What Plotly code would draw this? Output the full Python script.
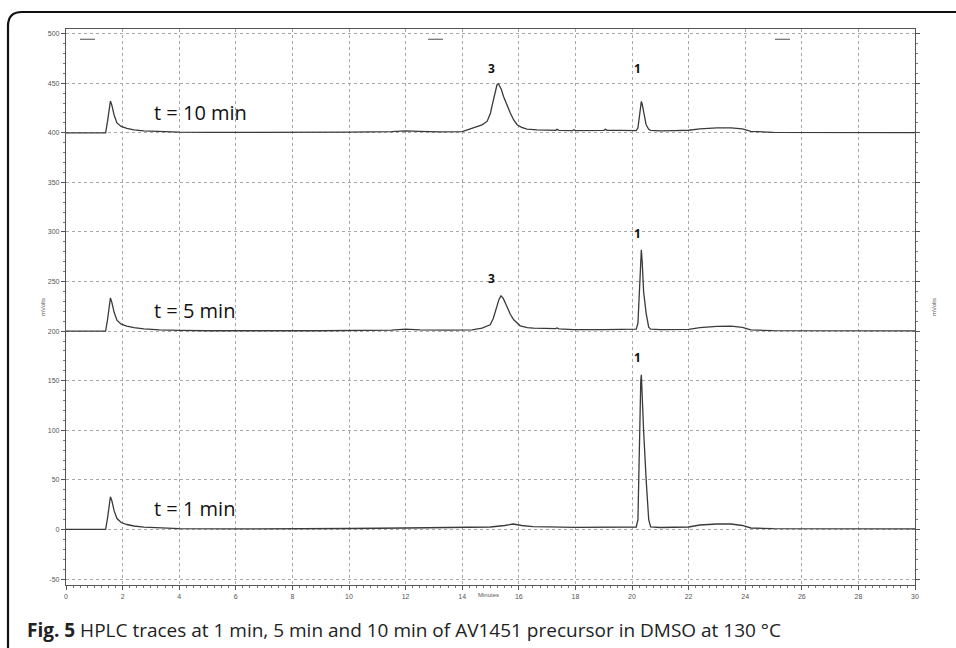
import plotly.graph_objects as go

# ---------------- data ----------------
t10_time = [0, 1.40, 1.47, 1.53, 1.57, 1.62, 1.70, 1.80, 1.95, 2.15, 2.40, 2.75, 3.3, 4.0, 5.0, 7.0,
            9.0, 10.0, 11.5, 12.0, 12.5, 13.2, 14.0, 14.4, 14.7, 14.88, 15.0, 15.05, 15.15, 15.23, 15.28,
            15.38, 15.46, 15.58, 15.70, 15.82, 15.94, 16.1, 16.29, 16.64, 17.3, 17.35, 17.42, 17.9, 17.95,
            18.0, 18.6, 19.0, 19.06, 19.12, 19.6, 20.15, 20.21, 20.26, 20.31, 20.33, 20.36, 20.41, 20.5,
            20.59, 20.66, 21.0, 21.4, 21.46, 21.5, 22.0, 22.4, 23.0, 23.5, 23.9, 24.2, 25.0, 27.0, 30.0]
t10_mv = [400, 400, 412, 428, 432, 428, 418, 410, 406.5, 404.5, 403, 402, 401.2, 400.7, 400.4, 400.3,
          400.5, 400.8, 401.2, 402, 401.5, 401, 401.2, 404.8, 408, 411.5, 420, 426.6, 440, 448.5, 449.5,
          444, 436.7, 428, 420, 413, 408.2, 405.5, 403.8, 402.9, 402.5, 403.5, 402.5, 402.3, 403.2,
          402.3, 402.4, 402.5, 403.5, 402.5, 402.4, 402.3, 405, 418, 429, 431.7, 429, 420, 408,
          403.5, 402.5, 402, 402.3, 403, 402.3, 402.6, 404, 405, 405, 404, 401.5, 400.5, 400.3, 400.2]

t5_time = [0, 1.40, 1.47, 1.53, 1.57, 1.62, 1.70, 1.80, 1.95, 2.15, 2.40, 2.75, 3.3, 4.0, 5.0, 9.0,
           11.5, 12.0, 12.5, 13.5, 14.35, 14.7, 14.99, 15.1, 15.23, 15.30, 15.37, 15.45, 15.58, 15.70,
           15.82, 16.05, 16.3, 16.52, 17.3, 17.35, 17.42, 17.94, 19.0, 20.06, 20.15, 20.21, 20.26, 20.31,
           20.33, 20.36, 20.41, 20.5, 20.59, 20.66, 21.0, 22.0, 22.4, 23.0, 23.5, 23.9, 24.2, 25.0, 30.0]
t5_mv = [200, 200, 212, 229, 233.5, 229, 219, 211, 207, 205, 203.5, 202.2, 201.2, 200.7, 200.4, 200.4,
         201, 202, 201.3, 201, 201.3, 203, 206.4, 213, 224.8, 232, 235.6, 233, 224.8, 217,
         211.4, 205.4, 203.5, 203, 202.5, 203.2, 202.3, 201.5, 201.5, 201.5, 202, 208, 240, 272,
         282, 270, 240, 218, 204, 202, 201.5, 201.8, 203.5, 204.8, 205, 203.8, 201.2, 200.5, 200.3]

t1_time = [0, 1.40, 1.47, 1.53, 1.57, 1.62, 1.70, 1.80, 1.95, 2.15, 2.40, 2.75, 3.3, 4.0, 6.0, 9.0,
           10.0, 12.0, 14.0, 15.0, 15.5, 15.8, 16.1, 16.5, 18.0, 20.0, 20.15, 20.21, 20.26, 20.31,
           20.33, 20.36, 20.41, 20.5, 20.59, 20.66, 21.0, 22.0, 22.4, 23.0, 23.5, 23.9, 24.2, 25.0, 30.0]
t1_mv = [0, 0, 12, 29, 33, 29, 19, 11, 7, 5, 3.5, 2.3, 1.5, 0.9, 0.5, 0.6,
         1.0, 1.5, 2.0, 2.5, 4.0, 5.5, 4.0, 2.8, 2.2, 2.0, 2.5, 10, 100, 150,
         156, 140, 100, 50, 10, 2.5, 2.0, 2.5, 4.5, 5.5, 5.5, 4.0, 1.5, 0.8, 0.5]

trace_labels = ["t = 10 min", "t = 5 min", "t = 1 min"]
trace_label_y = [421, 220.5, 20.7]
trace_label_x = 3.05

peak_names = ["3", "1", "3", "1", "1"]
peak_x = [15.05, 20.18, 15.05, 20.18, 20.18]
peak_y = [464.7, 464.7, 252.8, 298, 173]

x_ticks = list(range(0, 31, 2))
y_ticks = list(range(-50, 501, 50))

# ---------------- figure ----------------
fig = go.Figure()
line_style = dict(color="#3a3a3a", width=1.3)
for tx, ty in [(t10_time, t10_mv), (t5_time, t5_mv), (t1_time, t1_mv)]:
    fig.add_trace(go.Scatter(x=tx, y=ty, mode="lines", line=line_style,
                             showlegend=False, hoverinfo="skip"))

annotations = []
for txt, yv in zip(trace_labels, trace_label_y):
    annotations.append(dict(x=trace_label_x, y=yv, xref="x", yref="y", text=txt,
                            showarrow=False, xanchor="left", yanchor="middle",
                            font=dict(family="Open Sans", size=20, color="#111")))
for txt, xv, yv in zip(peak_names, peak_x, peak_y):
    annotations.append(dict(x=xv, y=yv, xref="x", yref="y", text="<b>%s</b>" % txt,
                            showarrow=False, xanchor="center", yanchor="middle",
                            font=dict(family="Open Sans", size=12, color="#111")))

L, R, T, B = 66, 41, 29, 63
W, H = 956, 648
pw, ph = W - L - R, H - T - B


def px(xp):
    return (xp - L) / pw


def py(yp):
    return (H - B - yp) / ph


annotations += [
    dict(x=px(488), y=py(600), xref="paper", yref="paper", text="Minutes", showarrow=False,
         font=dict(family="Liberation Sans", size=6, color="#555")),
    dict(x=px(38), y=0.5, xref="paper", yref="paper", text="mVolts", showarrow=False,
         textangle=-90, font=dict(family="Liberation Sans", size=6, color="#555")),
    dict(x=px(939), y=0.5, xref="paper", yref="paper", text="mVolts", showarrow=False,
         textangle=-90, font=dict(family="Liberation Sans", size=6, color="#555")),
    dict(x=px(25), y=py(630), xref="paper", yref="paper", xanchor="left", yanchor="middle",
         text="<b>Fig. 5</b> HPLC traces at 1 min, 5 min and 10 min of AV1451 precursor in DMSO at 130 °C",
         showarrow=False, font=dict(family="Open Sans", size=19, color="#222")),
]

# outer rounded frame
x0, y0 = px(8), py(12)
x1, y1 = px(990), py(680)
rx, ry = 14 / pw, 14 / ph
frame_path = (f"M {x0},{y0 - ry} Q {x0},{y0} {x0 + rx},{y0} L {x1},{y0} "
              f"M {x0},{y0 - ry} L {x0},{y1}")
shapes = [dict(type="path", path=frame_path, xref="paper", yref="paper",
               line=dict(color="#111", width=2.2))]
# small marker dashes along the top of the plot
for a, b in [(80, 95), (428, 443), (775, 790)]:
    shapes.append(dict(type="line", x0=px(a), x1=px(b), y0=py(39.3), y1=py(39.3),
                       xref="paper", yref="paper", line=dict(color="#777", width=1.3)))

fig.update_layout(
    width=W, height=H,
    margin=dict(l=L, r=R, t=T, b=B),
    paper_bgcolor="white", plot_bgcolor="white",
    annotations=annotations, shapes=shapes,
    showlegend=False,
)
fig.update_xaxes(range=[0, 30], tickvals=x_ticks, ticktext=[str(v) for v in x_ticks],
                 showgrid=True, gridcolor="#a8a8a8", griddash="dot", gridwidth=1,
                 showline=True, linecolor="#555", linewidth=1.3, mirror=True,
                 ticks="outside", ticklen=4, tickcolor="#555",
                 minor=dict(dtick=0.25, ticks="outside", ticklen=2, tickcolor="#777", showgrid=False),
                 tickfont=dict(family="Liberation Sans", size=7, color="#555"),
                 zeroline=False)
fig.update_yaxes(range=[-56, 504.7], tickvals=y_ticks, ticktext=[str(v) for v in y_ticks],
                 showgrid=True, gridcolor="#a8a8a8", griddash="dot", gridwidth=1,
                 showline=True, linecolor="#555", linewidth=1.3, mirror="ticks",
                 ticks="outside", ticklen=4, tickcolor="#555",
                 minor=dict(dtick=10, ticks="outside", ticklen=2, tickcolor="#777", showgrid=False),
                 tickfont=dict(family="Liberation Sans", size=7, color="#555"),
                 zeroline=False)

fig.write_html("out.html", config={"displayModeBar": False},
               post_script="document.body.style.margin='0';document.body.style.overflow='hidden';")
